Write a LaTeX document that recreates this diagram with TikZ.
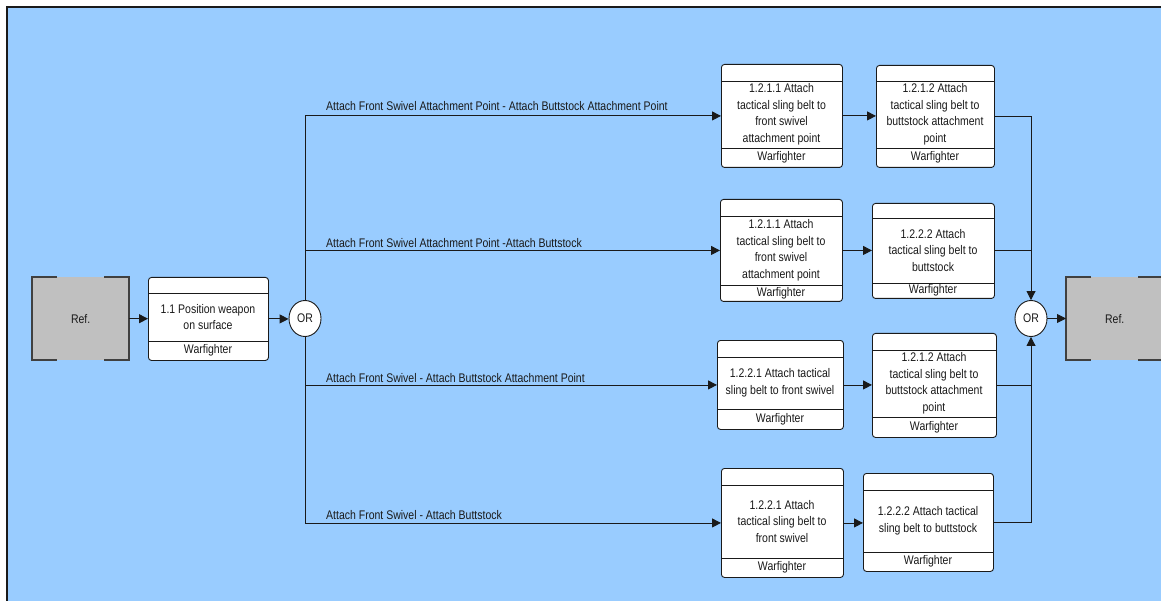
\documentclass[tikz,border=0pt]{standalone}
\usepackage{fontspec}
\setmainfont{Liberation Sans}[FakeStretch=0.84]
\usetikzlibrary{arrows.meta,shapes.geometric}
\definecolor{canvas}{HTML}{99CCFF}
\definecolor{refgray}{HTML}{C0C0C0}
\definecolor{ink}{HTML}{1A1A1A}
\definecolor{edge}{HTML}{404040}
\tikzset{
  wire/.style={draw=ink, line width=0.9pt},
  flow/.style={wire, -{Triangle[length=9pt,width=9pt]}},
  actbox/.style={draw=ink, fill=white, rounded corners=3pt, line width=0.9pt, inner sep=0pt, anchor=north west},
  gate/.style={ellipse, draw=ink, fill=white, line width=0.9pt, minimum width=32pt, minimum height=36pt, inner sep=0pt, text=ink, font=\fontsize{12.5}{14}\selectfont},
  body/.style={align=center, inner sep=0pt, text=ink, font=\fontsize{12.5}{16.5}\selectfont},
  branchlabel/.style={anchor=base west, inner sep=0pt, text=ink, font=\fontsize{12.5}{14}\selectfont},
  refedge/.style={draw=edge, line width=1.1pt},
}
% activity box: name, left, top, right, bottom, upper divider, lower divider, text
\newcommand\activity[8]{%
  \node[actbox, minimum width={(#4-#2)*1pt}, minimum height={(#5-#3)*1pt}] (#1) at (#2,#3) {};
  \draw[wire] (#2,#6) -- (#4,#6);
  \draw[wire] (#2,#7) -- (#4,#7);
  \node[body] at ({(#2+#4)/2},{(#6+#7)/2}) {#8};
  \node[body] at ({(#2+#4)/2},{(#7+#5)/2}) {Warfighter};
}
% reference block: name, left, top, right, bottom
\newcommand\refblock[5]{%
  \node[fill=refgray, anchor=north west, inner sep=0pt, minimum width={(#4-#2)*1pt}, minimum height={(#5-#3)*1pt}] (#1) at (#2,#3) {};
  \node[body] at (#1.center) {Ref.};
  \draw[refedge] ({#2+25},#3) -- (#2,#3) -- (#2,#5) -- ({#2+25},#5);
  \draw[refedge] ({#4-25},#3) -- (#4,#3) -- (#4,#5) -- ({#4-25},#5);
}
\begin{document}
\begin{tikzpicture}[x=1pt,y=-1pt]
\useasboundingbox (0,0) rectangle (1161,601);
\clip (0,0) rectangle (1161,601);
\fill[white] (0,0) rectangle (1161,601);
\draw[fill=canvas, draw=ink, line width=2pt] (7,7) rectangle (1175,615);

% reference blocks and gates
\refblock{refL}{32}{277}{129}{360}
\refblock{refR}{1066}{277}{1163}{360}
\node[gate] (orL) at (305,318.5) {OR};
\node[gate] (orR) at (1031,318.5) {OR};

% activities
\activity{p11}{148}{277}{268}{360}{293}{341}{1.1 Position weapon\\on surface}
\activity{a1}{721}{64}{842}{167}{81}{148}{1.2.1.1 Attach\\tactical sling belt to\\front swivel\\attachment point}
\activity{b1}{876}{65}{994}{167}{81}{148}{1.2.1.2 Attach\\tactical sling belt to\\buttstock attachment\\point}
\activity{a2}{720}{199}{842}{301}{216}{285}{1.2.1.1 Attach\\tactical sling belt to\\front swivel\\attachment point}
\activity{b2}{872}{203}{994}{298}{218}{283}{1.2.2.2 Attach\\tactical sling belt to\\buttstock}
\activity{a3}{717}{340}{843}{429}{357}{409}{1.2.2.1 Attach tactical\\sling belt to front swivel}
\activity{b3}{872}{333}{996}{437}{350}{417}{1.2.1.2 Attach\\tactical sling belt to\\buttstock attachment\\point}
\activity{a4}{721}{468}{843}{577}{485}{558}{1.2.2.1 Attach\\tactical sling belt to\\front swivel}
\activity{b4}{863}{473}{993}{571}{490}{552}{1.2.2.2 Attach tactical\\sling belt to buttstock}

% branch labels
\node[branchlabel] (lab1) at (326,111) {Attach Front Swivel Attachment Point - Attach Buttstock Attachment Point};
\node[branchlabel] (lab2) at (326,248) {Attach Front Swivel Attachment Point -Attach Buttstock};
\node[branchlabel] (lab3) at (326,382) {Attach Front Swivel - Attach Buttstock Attachment Point};
\node[branchlabel] (lab4) at (326,519) {Attach Front Swivel - Attach Buttstock};

% connectors
\draw[flow] (refL.east) -- (refL.east -| p11.west);
\draw[flow] (p11.east) -- (p11.east -| orL.west);
\draw[flow] (orL.north) |- (a1.west);
\draw[flow] (orL.north) |- (a2.west);
\draw[flow] (orL.south) |- (a3.west);
\draw[flow] (orL.south) |- (a4.west);
\draw[flow] (a1.east) -- (a1.east -| b1.west);
\draw[flow] (a2.east) -- (a2.east -| b2.west);
\draw[flow] (a3.east) -- (a3.east -| b3.west);
\draw[flow] (a4.east) -- (a4.east -| b4.west);
\draw[flow] (b1.east) -| (orR.north);
\draw[wire] (b2.east) -- (b2.east -| orR.north);
\draw[wire] (b3.east) -- (b3.east -| orR.south);
\draw[flow] (b4.east) -| (orR.south);
\draw[flow] (orR.east) -- (orR.east -| refR.west);
\end{tikzpicture}
\end{document}
